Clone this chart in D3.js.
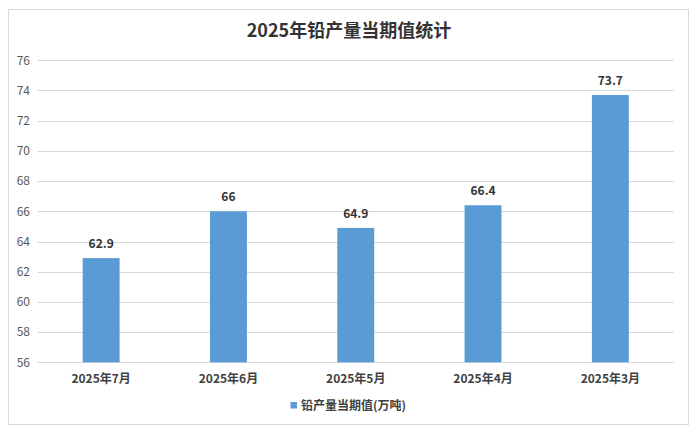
<!DOCTYPE html>
<html>
<head>
<meta charset="utf-8">
<script src="https://cdn.jsdelivr.net/npm/d3@7"></script>
<style>
  html, body { margin: 0; padding: 0; background: #fff; }
  svg { display: block; }
  text { font-family: "Noto Sans CJK SC", "Noto Sans", sans-serif; }
</style>
</head>
<body>
<svg id="chart" width="698" height="436"></svg>
<script>
const titleText = "2025年铅产量当期值统计";
const categories = ["2025年7月", "2025年6月", "2025年5月", "2025年4月", "2025年3月"];
const values = [62.9, 66, 64.9, 66.4, 73.7];
const yTicks = [56, 58, 60, 62, 64, 66, 68, 70, 72, 74, 76];
const seriesName = "铅产量当期值(万吨)";

const W = 698, H = 436;
const svg = d3.select("#chart");
const barColor = "#5b9bd5";

// outer border
svg.append("rect")
  .attr("x", 8.5).attr("y", 9.5).attr("width", 680).attr("height", 415)
  .attr("fill", "#fff").attr("stroke", "#d9d9d9").attr("stroke-width", 1);

// title
svg.append("text")
  .attr("x", 349).attr("y", 37)
  .attr("text-anchor", "middle")
  .attr("font-size", 18).attr("font-weight", "bold")
  .attr("fill", "#333")
  .text(titleText);

const x = d3.scaleBand()
  .domain(categories)
  .range([37.5, 674])
  .paddingInner(0.71)
  .paddingOuter(0.355);

const y = d3.scaleLinear()
  .domain([56, 76])
  .range([362.3, 60.3]);

// gridlines
svg.append("g")
  .selectAll("line")
  .data(yTicks)
  .join("line")
  .attr("x1", 37.5).attr("x2", 674)
  .attr("y1", d => Math.round(y(d)) + 0.5)
  .attr("y2", d => Math.round(y(d)) + 0.5)
  .attr("stroke", "#d9d9d9").attr("stroke-width", 1);

// y axis labels
const yAxis = d3.axisLeft(y).tickValues(yTicks).tickSize(0).tickPadding(0).tickFormat(d3.format("d"));
const gy = svg.append("g").attr("transform", "translate(30,0)").call(yAxis);
gy.select(".domain").remove();
gy.selectAll("text")
  .attr("font-size", 12).attr("fill", "#595959")
  .attr("font-family", "\"Noto Sans CJK SC\", sans-serif");

// bars
svg.append("g")
  .selectAll("rect")
  .data(values)
  .join("rect")
  .attr("x", (d, i) => x(categories[i]))
  .attr("width", x.bandwidth())
  .attr("y", d => y(d))
  .attr("height", d => y(56) - y(d))
  .attr("fill", barColor);

// value labels
svg.append("g")
  .selectAll("text")
  .data(values)
  .join("text")
  .attr("x", (d, i) => x(categories[i]) + x.bandwidth() / 2)
  .attr("y", d => y(d) - 10)
  .attr("text-anchor", "middle")
  .attr("font-size", 12).attr("font-weight", "bold")
  .attr("fill", "#333")
  .text(d => d);

// x axis labels
const xAxis = d3.axisBottom(x).tickSize(0).tickPadding(0);
const gx = svg.append("g").attr("transform", "translate(0,383)").call(xAxis);
gx.select(".domain").remove();
gx.selectAll("text")
  .attr("dy", 0)
  .attr("font-size", 12).attr("font-weight", "bold")
  .attr("fill", "#404040");

// legend
const lg = svg.append("g");
lg.append("rect")
  .attr("x", 290.5).attr("y", 402).attr("width", 6.5).attr("height", 6.5)
  .attr("fill", barColor);
lg.append("text")
  .attr("x", 301).attr("y", 410)
  .attr("font-size", 12).attr("font-weight", "bold")
  .attr("fill", "#404040")
  .text(seriesName);
</script>
</body>
</html>
